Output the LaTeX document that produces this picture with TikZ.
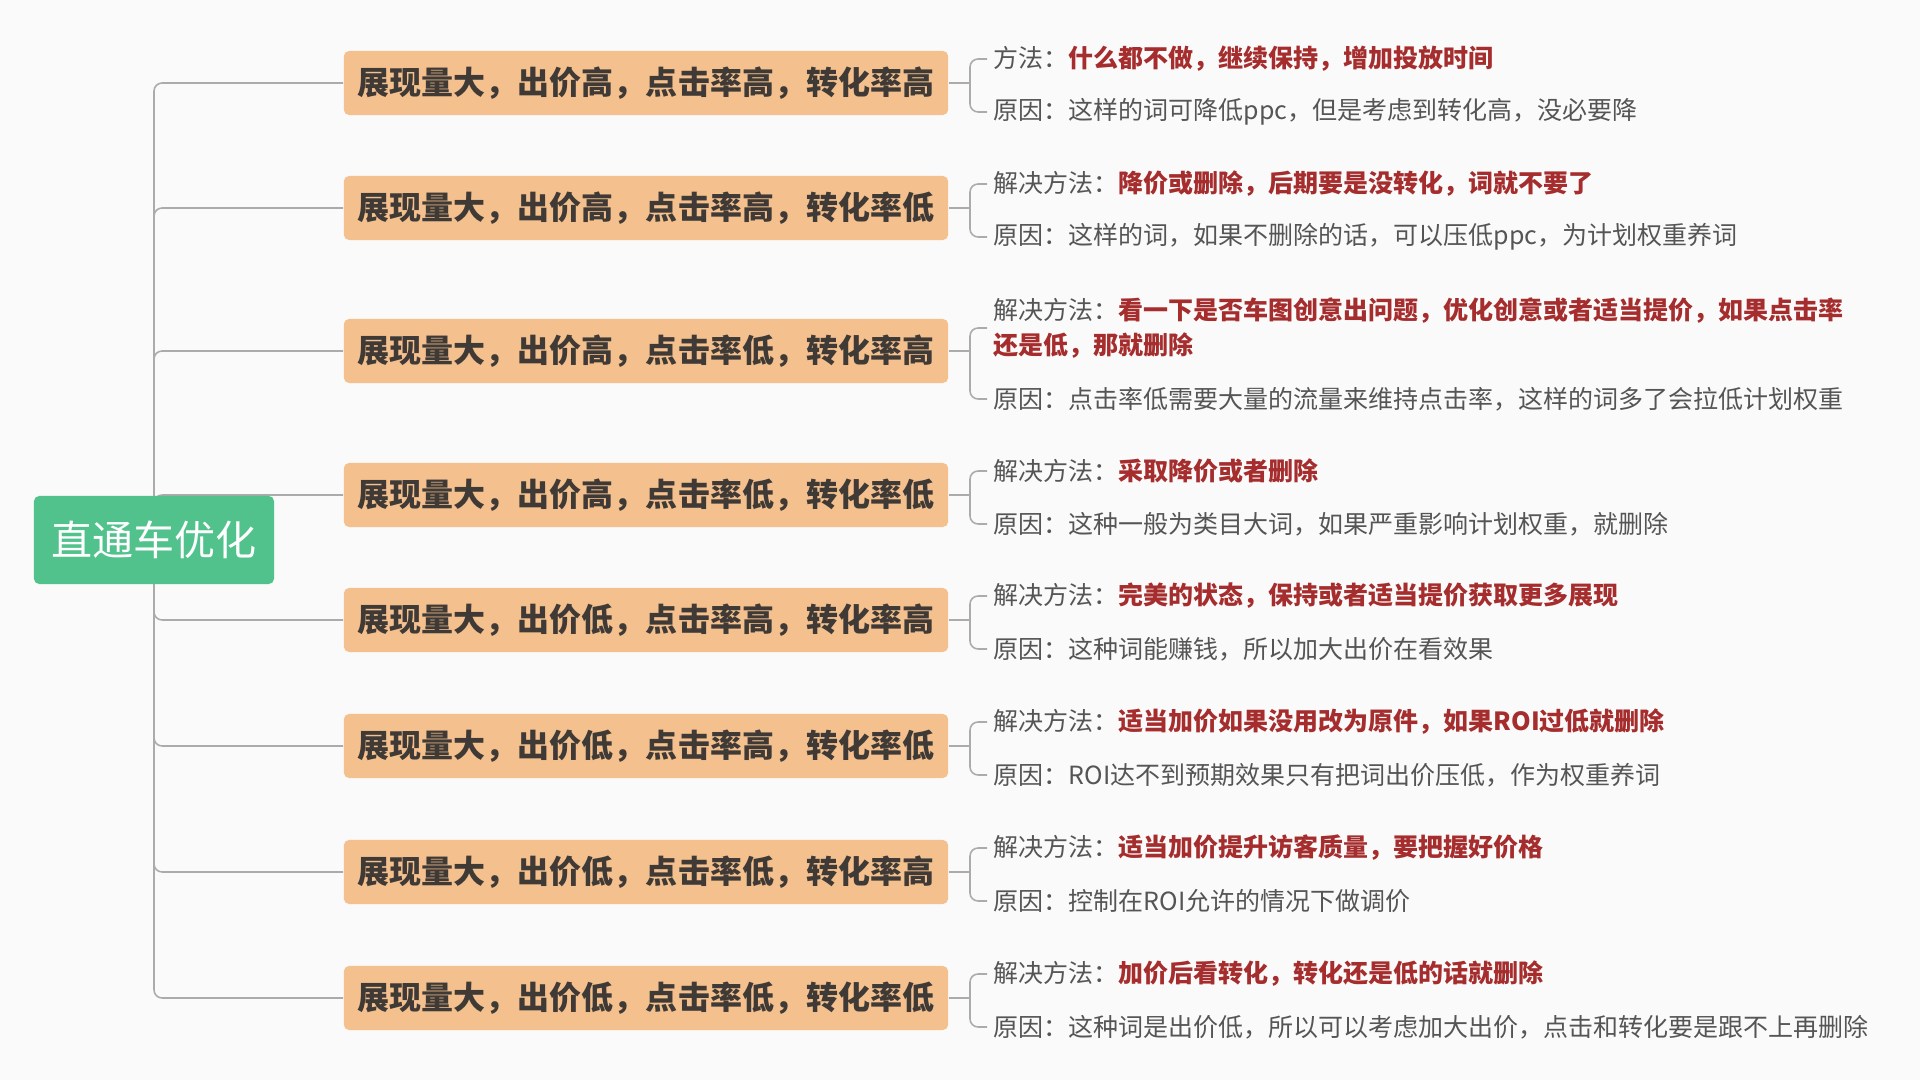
\documentclass[tikz,border=0pt]{standalone}
\usepackage{fontspec}
\setmainfont{Noto Sans CJK SC}
\usetikzlibrary{backgrounds}
\definecolor{bgcol}{HTML}{FAFAFA}
\definecolor{rootcol}{HTML}{52C28D}
\definecolor{boxcol}{HTML}{F4C08E}
\definecolor{boxtext}{HTML}{3F3A36}
\definecolor{hlred}{HTML}{A62D2D}
\definecolor{notetext}{HTML}{555555}
\definecolor{linecol}{HTML}{ABABAB}
\newcommand\redtxt[1]{{\bfseries\color{hlred}#1}}

\begin{document}
\begin{tikzpicture}[x=0.01cm, y=-0.01cm,
  rootbox/.style={fill=rootcol, text=white, rounded corners=1.5pt, minimum width=2.4cm, minimum height=0.88cm, inner sep=0pt, font=\fontsize{11.67}{14}\selectfont},
  case/.style={fill=boxcol, text=boxtext, rounded corners=1.5pt, minimum width=6.04cm, minimum height=0.64cm, inner sep=0pt, font=\fontsize{9.1}{11}\selectfont\bfseries},
  note/.style={anchor=west, inner xsep=0.06cm, inner ysep=0pt, text=notetext, align=left, font=\fontsize{7.11}{9.96}\selectfont},
  link/.style={draw=linecol, line width=0.45pt, rounded corners=2.3pt}]
\node[rootbox] (root) at (154,540) {直通车优化};
\node[case] (c1) at (646,83) {展现量大，出价高，点击率高，转化率高};
\node[case] (c2) at (646,208) {展现量大，出价高，点击率高，转化率低};
\node[case] (c3) at (646,351) {展现量大，出价高，点击率低，转化率高};
\node[case] (c4) at (646,495) {展现量大，出价高，点击率低，转化率低};
\node[case] (c5) at (646,620) {展现量大，出价低，点击率高，转化率高};
\node[case] (c6) at (646,746) {展现量大，出价低，点击率高，转化率低};
\node[case] (c7) at (646,872) {展现量大，出价低，点击率低，转化率高};
\node[case] (c8) at (646,998) {展现量大，出价低，点击率低，转化率低};
% methods and reasons
\node[note] (m1) at (987,59) {方法：\redtxt{什么都不做，继续保持，增加投放时间}};
\node[note] (r1) at (987,112) {原因：这样的词可降低ppc，但是考虑到转化高，没必要降};
\node[note] (m2) at (987,184) {解决方法：\redtxt{降价或删除，后期要是没转化，词就不要了}};
\node[note] (r2) at (987,237) {原因：这样的词，如果不删除的话，可以压低ppc，为计划权重养词};
\node[note] (m3) at (987,328) {解决方法：\redtxt{看一下是否车图创意出问题，优化创意或者适当提价，如果点击率}\\\redtxt{还是低，那就删除}};
\node[note] (r3) at (987,399) {原因：点击率低需要大量的流量来维持点击率，这样的词多了会拉低计划权重};
\node[note] (m4) at (987,471) {解决方法：\redtxt{采取降价或者删除}};
\node[note] (r4) at (987,524) {原因：这种一般为类目大词，如果严重影响计划权重，就删除};
\node[note] (m5) at (987,596) {解决方法：\redtxt{完美的状态，保持或者适当提价获取更多展现}};
\node[note] (r5) at (987,649) {原因：这种词能赚钱，所以加大出价在看效果};
\node[note] (m6) at (987,722) {解决方法：\redtxt{适当加价如果没用改为原件，如果ROI过低就删除}};
\node[note] (r6) at (987,775) {原因：ROI达不到预期效果只有把词出价压低，作为权重养词};
\node[note] (m7) at (987,848) {解决方法：\redtxt{适当加价提升访客质量，要把握好价格}};
\node[note] (r7) at (987,901) {原因：控制在ROI允许的情况下做调价};
\node[note] (m8) at (987,974) {解决方法：\redtxt{加价后看转化，转化还是低的话就删除}};
\node[note] (r8) at (987,1027) {原因：这种词是出价低，所以可以考虑加大出价，点击和转化要是跟不上再删除};
\coordinate (j1) at (970,83);
\coordinate (j2) at (970,208);
\coordinate (j3) at (970,351);
\coordinate (j4) at (970,495);
\coordinate (j5) at (970,620);
\coordinate (j6) at (970,746);
\coordinate (j7) at (970,872);
\coordinate (j8) at (970,998);
\begin{scope}[on background layer]
\fill[bgcol] (0,0) rectangle (1920,1080);
\draw[link] (root.center) |- (c1.west);
\draw[link] (root.center) |- (c2.west);
\draw[link] (root.center) |- (c3.west);
\draw[link] (root.center) |- (c4.west);
\draw[link] (root.center) |- (c5.west);
\draw[link] (root.center) |- (c6.west);
\draw[link] (root.center) |- (c7.west);
\draw[link] (root.center) |- (c8.west);
\end{scope}
\draw[link] (c1.east) -- (j1);
\draw[link] (c2.east) -- (j2);
\draw[link] (c3.east) -- (j3);
\draw[link] (c4.east) -- (j4);
\draw[link] (c5.east) -- (j5);
\draw[link] (c6.east) -- (j6);
\draw[link] (c7.east) -- (j7);
\draw[link] (c8.east) -- (j8);
\draw[link] (m1.west) -| (j1) |- (r1.west);
\draw[link] (m2.west) -| (j2) |- (r2.west);
\draw[link] (m3.west) -| (j3) |- (r3.west);
\draw[link] (m4.west) -| (j4) |- (r4.west);
\draw[link] (m5.west) -| (j5) |- (r5.west);
\draw[link] (m6.west) -| (j6) |- (r6.west);
\draw[link] (m7.west) -| (j7) |- (r7.west);
\draw[link] (m8.west) -| (j8) |- (r8.west);
\end{tikzpicture}
\end{document}
